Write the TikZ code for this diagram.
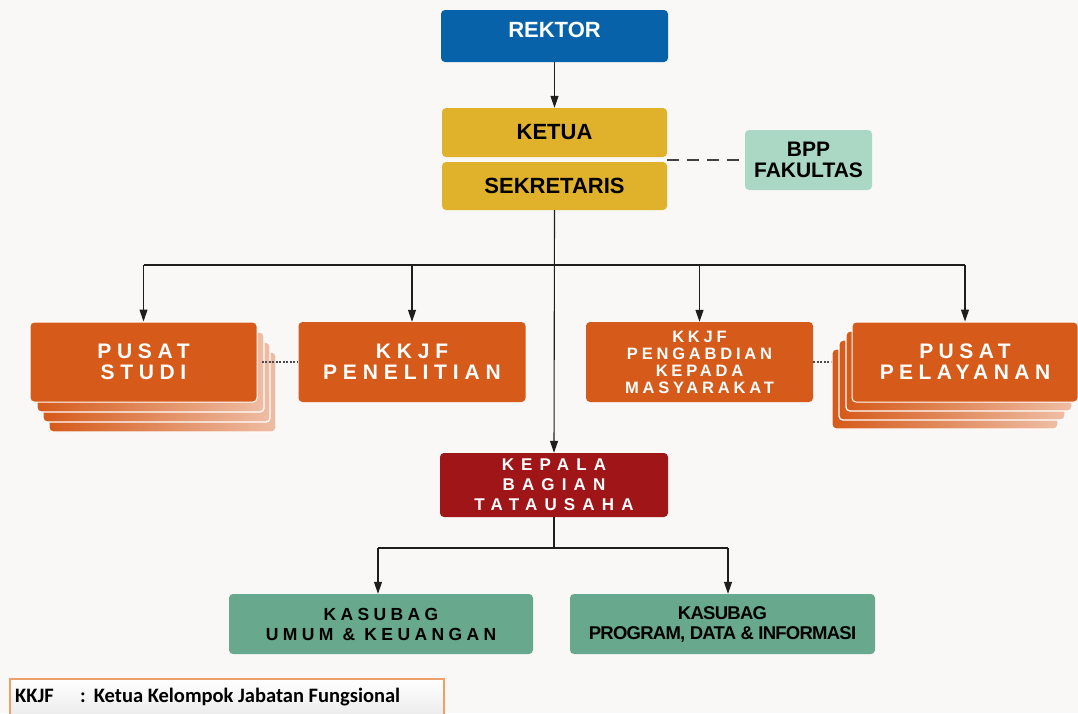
\documentclass[tikz,border=0pt]{standalone}
\usepackage{fontspec}
\setmainfont{Liberation Sans}
\newfontfamily\carl{Carlito}
\usetikzlibrary{arrows.meta}
\definecolor{bgc}{RGB}{250,247,247}
\definecolor{blueC}{RGB}{8,98,169}
\definecolor{goldC}{RGB}{224,178,44}
\definecolor{mintC}{RGB}{170,216,196}
\definecolor{orangeC}{RGB}{214,90,26}
\definecolor{redC}{RGB}{160,22,24}
\definecolor{greenC}{RGB}{104,168,140}
\definecolor{lineC}{RGB}{30,30,30}
\definecolor{legB}{RGB}{236,160,110}
\definecolor{legF}{RGB}{232,232,232}
\begin{document}
\begin{tikzpicture}[x=1pt,y=-1pt,
  box/.style={rounded corners=4pt, inner sep=0pt, align=center},
  arr/.style={-{Triangle[length=12pt,width=8pt]}, line width=1.1pt, draw=lineC},
  ln/.style={line width=1.1pt, draw=lineC},
  obox/.style={box, fill=orangeC, text=white, minimum width=227pt, minimum height=80pt},
  layer/.style={rounded corners=4pt, left color=orangeC, right color=orangeC!40!white, draw=white, line width=1.3pt},
  dotc/.style={line width=2pt, draw=lineC!80, dash pattern=on 2pt off 1.5pt},
  big/.style={font=\bfseries\fontsize{22}{24}\selectfont}
]
\fill[bgc] (0,0) rectangle (1078,713);
\useasboundingbox (0,0) rectangle (1078,713);

% top
\node[box, big, fill=blueC, text=white, minimum width=227pt, minimum height=52pt] (rektor) at (554.5,36) {\raisebox{6pt}[\height][\depth]{REKTOR}};
\node[box, big, fill=goldC, text=black, minimum width=225pt, minimum height=49pt] (ketua) at (554.5,132.5) {KETUA};
\node[box, big, fill=goldC, text=black, minimum width=225pt, minimum height=48pt] (sek) at (554.5,186) {SEKRETARIS};
\node[box, fill=mintC, text=black, minimum width=127pt, minimum height=60pt, font=\bfseries\fontsize{21}{21}\selectfont] (bpp) at (808.5,160) {BPP\\FAKULTAS};

\draw[arr] (rektor.south) -- (ketua.north);
\draw[line width=1.5pt, draw=lineC!85, dash pattern=on 12pt off 8pt] (bpp.west -| sek.east) -- (bpp.west);

% level 2
\coordinate (bus) at (554,265);

% Pusat Studi stack
\foreach \dx/\dy in {19/30,13/20,7/10}
  \path[layer] (30+\dx,322+\dy) rectangle (257+\dx,402+\dy);
\node[obox, draw=white, line width=1pt, font=\bfseries\fontsize{21}{21}\selectfont\addfontfeature{LetterSpace=27}] (pstudi) at (143.5,362) {PUSAT\\STUDI};

\node[obox, font=\bfseries\fontsize{21}{21}\selectfont\addfontfeature{LetterSpace=28}] (penel) at (412,362) {KKJF\\PENELITIAN};
\node[obox, font=\bfseries\fontsize{16.5}{17}\selectfont\addfontfeature{LetterSpace=23}] (pengab) at (699.5,362) {KKJF\\PENGABDIAN\\KEPADA\\MASYARAKAT};

\draw[dotc] (pengab.east) -- (pengab.east -| 840,0);
\foreach \dx/\dy in {-20/27,-13/18,-6/9}
  \path[layer] (852+\dx,322+\dy) rectangle (1078+\dx,402+\dy);
\node[obox, draw=white, line width=1pt, minimum width=226pt, font=\bfseries\fontsize{21}{21}\selectfont\addfontfeature{LetterSpace=26}] (ppel) at (965,362) {PUSAT\\PELAYANAN};

\draw[dotc] ([xshift=4pt]pstudi.east) -- (penel.west);

\draw[ln] (pstudi.north |- bus) -- (ppel.north |- bus);
\draw[arr] (pstudi.north |- bus) -- (pstudi.north);
\draw[arr] (penel.north |- bus) -- (penel.north);
\draw[arr] (pengab.north |- bus) -- (pengab.north);
\draw[arr] (ppel.north |- bus) -- (ppel.north);

% Kepala
\node[box, fill=redC, text=white, minimum width=228pt, minimum height=64pt, font=\bfseries\fontsize{17}{20}\selectfont\addfontfeature{LetterSpace=42}] (kep) at (554,485) {KEPALA\\BAGIAN\\TATAUSAHA};
\draw[arr] (sek.south) -- (kep.north);

% Kasubag
\node[box, fill=greenC, text=black, minimum width=304pt, minimum height=60pt, font=\bfseries\fontsize{17.5}{20}\selectfont\addfontfeature{LetterSpace=25}] (umum) at (381,624) {KASUBAG\\UMUM \& KEUANGAN};
\node[box, fill=greenC, text=black, minimum width=305pt, minimum height=60pt, font=\bfseries\fontsize{18.5}{20}\selectfont\addfontfeature{LetterSpace=-4}] (prog) at (722.5,624) {KASUBAG\\PROGRAM, DATA \& INFORMASI};

\coordinate (ua) at (378,548);
\coordinate (pa) at (728,548);
\draw[ln] (kep.south) -- (kep.south |- ua);
\draw[ln] (ua) -- (pa);
\draw[arr] (ua) -- (ua |- umum.north);
\draw[arr] (pa) -- (pa |- prog.north);

% legend
\node[draw=legB, line width=1.5pt, top color=white, bottom color=legF, anchor=north west, minimum width=434pt, minimum height=44pt, inner sep=0pt] (leg) at (9,678) {};
\node[anchor=west, inner sep=0pt, font=\carl\bfseries\fontsize{20.5}{22}\selectfont] (legt) at (15,697) {\makebox[65pt][l]{KKJF}:\hspace{8pt}Ketua Kelompok Jabatan Fungsional};
\end{tikzpicture}
\end{document}
